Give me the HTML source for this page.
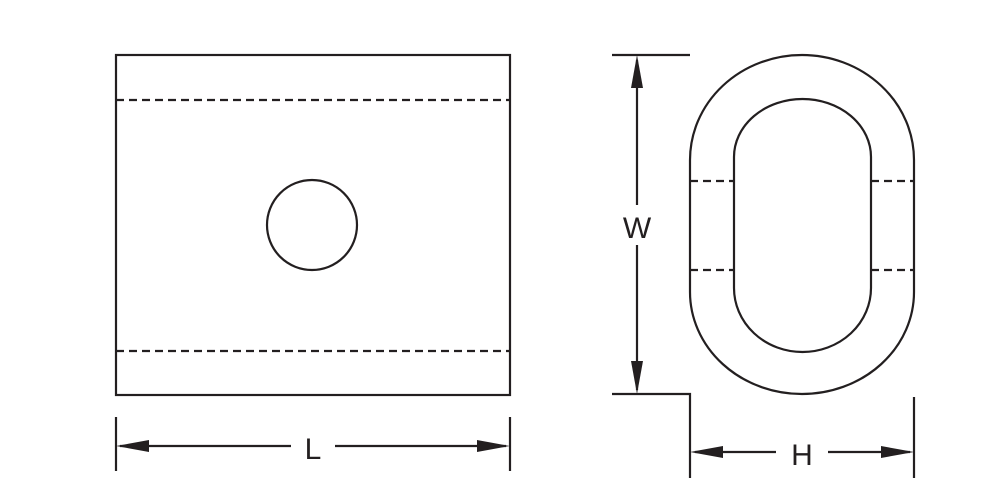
<!DOCTYPE html>
<html><head><style>html,body{margin:0;padding:0;background:#fff}svg{display:block}</style></head>
<body>
<svg width="1000" height="500" viewBox="0 0 1000 500" xmlns="http://www.w3.org/2000/svg">
<g fill="none" stroke="#231f20" stroke-width="2.2">
<rect x="116" y="55" width="394" height="340"/>
<line x1="116" y1="100" x2="510" y2="100" stroke-dasharray="8,5"/>
<line x1="116" y1="351" x2="510" y2="351" stroke-dasharray="8,5"/>
<circle cx="312" cy="225" r="45"/>
<path d="M690,160 A112,105 0 0 1 914,160 L914,292 A112,102 0 0 1 690,292 Z"/>
<path d="M734,157 A68.5,58 0 0 1 871,157 L871,288 A68.5,64 0 0 1 734,288 Z"/>
<g stroke-dasharray="8,5">
<line x1="690" y1="181" x2="734" y2="181"/><line x1="871" y1="181" x2="914" y2="181"/>
<line x1="690" y1="270" x2="734" y2="270"/><line x1="871" y1="270" x2="914" y2="270"/>
</g>
<line x1="612" y1="55" x2="690" y2="55"/>
<polyline points="612,394 690,394 690,478"/>
<line x1="637" y1="60" x2="637" y2="205"/><line x1="637" y1="245" x2="637" y2="390"/>
<line x1="914" y1="397" x2="914" y2="478"/>
<line x1="695" y1="452" x2="776" y2="452"/><line x1="828" y1="452" x2="910" y2="452"/>
<line x1="116" y1="417" x2="116" y2="471"/><line x1="510" y1="417" x2="510" y2="471"/>
<line x1="120" y1="446" x2="291" y2="446"/><line x1="335" y1="446" x2="506" y2="446"/>
</g>
<g fill="#231f20">
<polygon points="637,55 631,88 643,88"/><polygon points="637,394 631,361 643,361"/>
<polygon points="116,446 149,440 149,452"/><polygon points="510,446 477,440 477,452"/>
<polygon points="690,452 723,446 723,458"/><polygon points="914,452 881,446 881,458"/>
</g>
<g font-family="Liberation Sans, sans-serif" font-size="30" fill="#231f20" text-anchor="middle">
<text x="637" y="238">W</text>
<text x="313" y="459">L</text>
<text x="802" y="465">H</text>
</g>
</svg>
</body></html>
